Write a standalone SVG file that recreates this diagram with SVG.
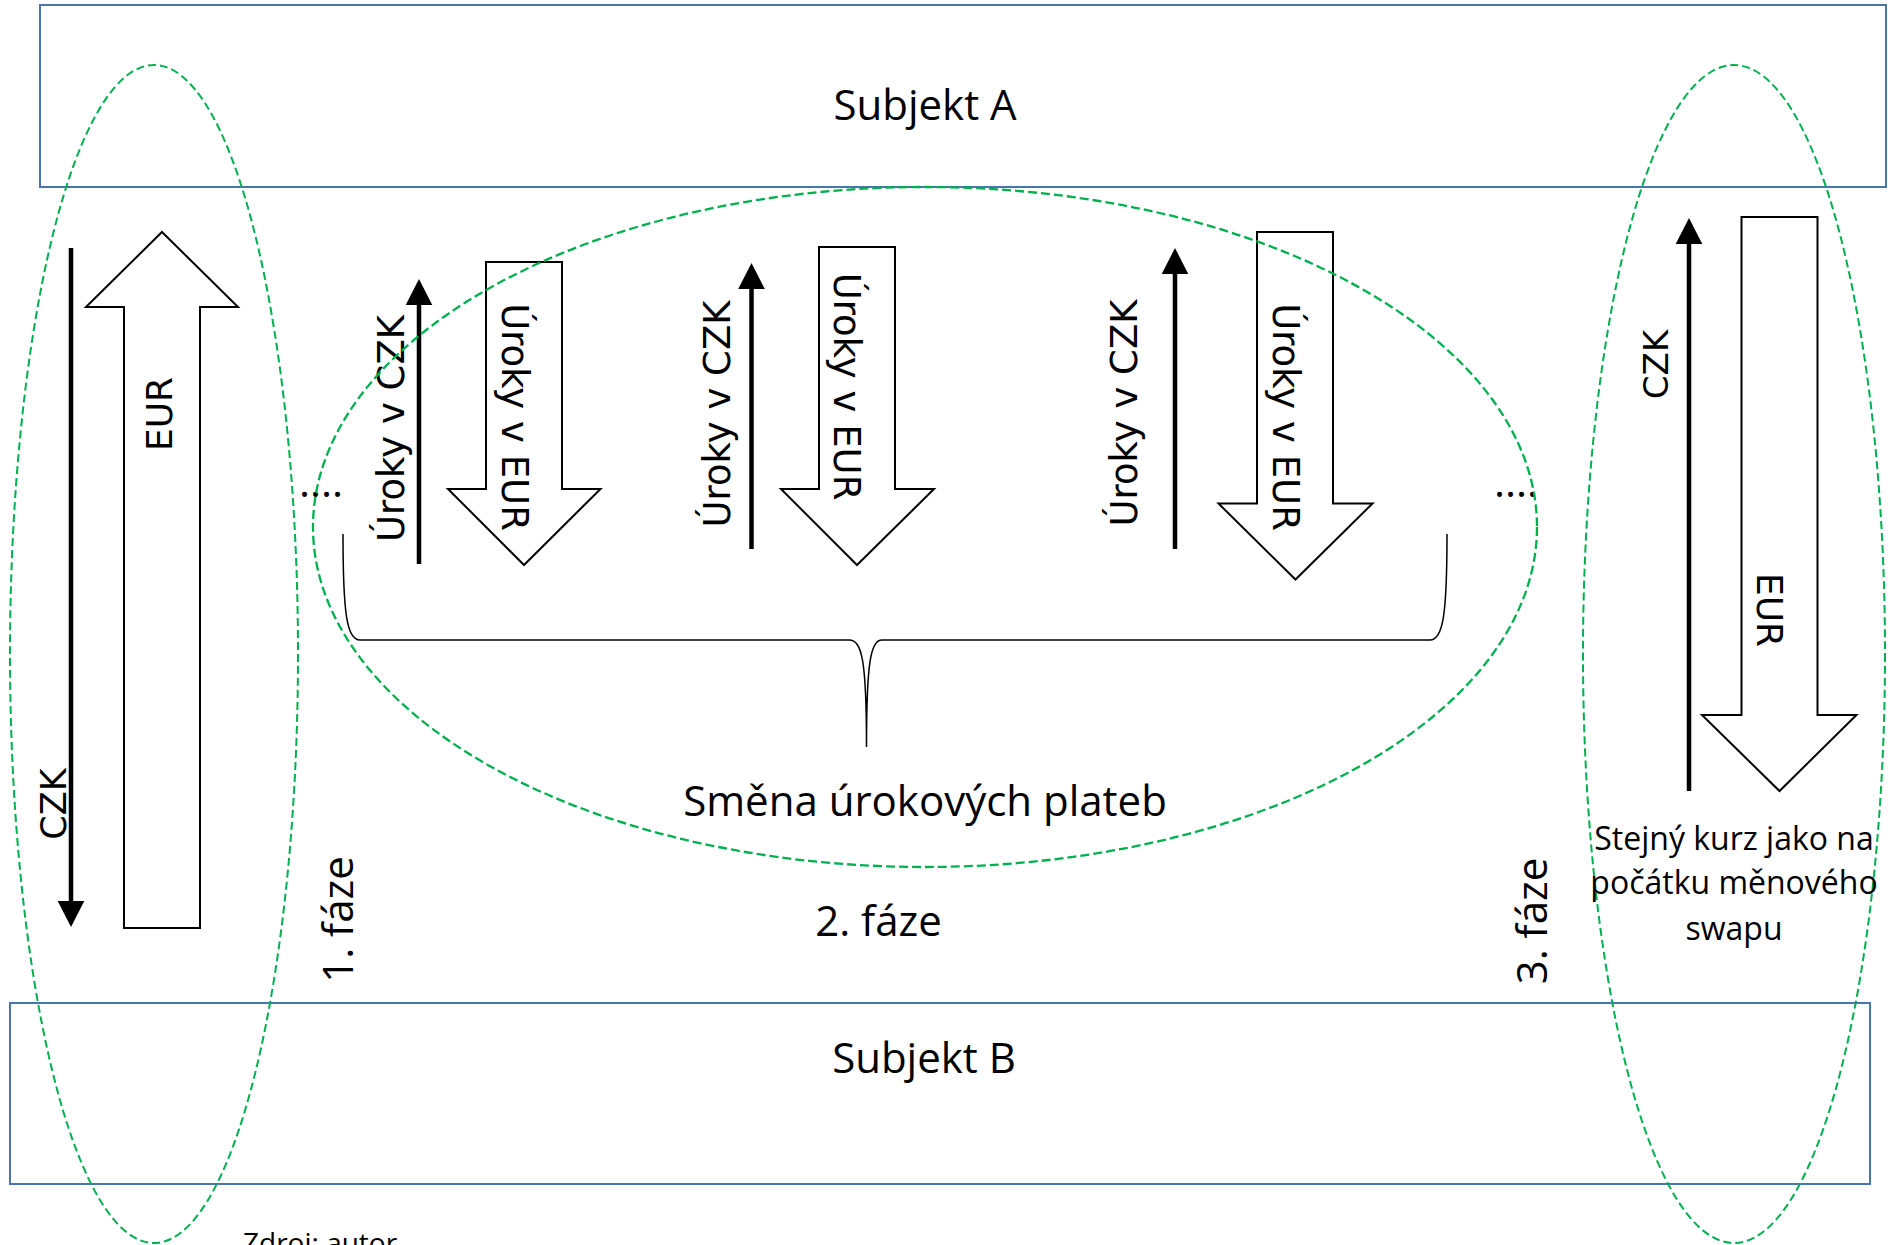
<svg xmlns="http://www.w3.org/2000/svg" width="1893" height="1245" viewBox="0 0 1893 1245">
  <style>
    .box { fill: none; stroke: #4a75a8; stroke-width: 2; }
    .title { font-family: "Open Sans", "Liberation Sans", sans-serif; font-size: 42px; fill: #000; text-anchor: middle; }
    .note { font-family: "Open Sans", "Liberation Sans", sans-serif; font-size: 32px; fill: #000; text-anchor: middle; }
    .dots { font-family: "Open Sans", "Liberation Sans", sans-serif; font-size: 42px; fill: #000; }
    .lbl { font-family: "DejaVu Sans", "Liberation Sans", sans-serif; font-size: 37px; fill: #000; text-anchor: middle; }
    .flow { stroke: #000; stroke-width: 4.5; fill: none; marker-end: url(#head); }
    .block { fill: none; stroke: #000; stroke-width: 2; stroke-linejoin: miter; }
    .zone { fill: none; stroke: #00b050; stroke-width: 2; stroke-dasharray: 8 4; }
    .zone-mid { fill: none; stroke: #00b050; stroke-width: 2.3; stroke-dasharray: 9 4; }
    .brace { fill: none; stroke: #000; stroke-width: 1.5; }
  </style>
  <defs>
    <marker id="head" markerUnits="userSpaceOnUse" markerWidth="27" markerHeight="28" viewBox="0 -14 27 28" refX="0" refY="0" orient="auto">
      <path d="M0,-13.3 L26,0 L0,13.3 z" fill="#000"/>
    </marker>
  </defs>

  <!-- parties -->
  <g id="subjekt-a">
    <rect class="box" x="40" y="5" width="1846" height="182"/>
    <text class="title" x="925" y="120">Subjekt A</text>
  </g>
  <g id="subjekt-b">
    <rect class="box" x="10" y="1003" width="1860" height="181"/>
    <text class="title" x="924" y="1073">Subjekt B</text>
  </g>

  <!-- payment flows -->
  <g id="connectors">
    <!-- phase 1: principal exchange -->
    <g id="flow-1-czk">
      <line class="flow" x1="71" y1="248" x2="71" y2="901"/>
      <text class="lbl" style="font-size:35px" transform="translate(66,804) rotate(-90)">CZK</text>
    </g>
    <g id="flow-1-eur">
      <polygon class="block" points="162,232 238,307 200,307 200,928 124,928 124,307 86,307"/>
      <text class="lbl" style="font-size:36px" transform="translate(172,414) rotate(-90)">EUR</text>
    </g>

    <!-- phase 2: interest payments -->
    <g id="flow-2a-czk">
      <line class="flow" x1="419" y1="564" x2="419" y2="305"/>
      <text class="lbl" transform="translate(404,428.5) rotate(-90)">Úroky v CZK</text>
    </g>
    <g id="flow-2a-eur">
      <polygon class="block" points="486,262 562,262 562,489 600.5,489 524,565 448,489 486,489"/>
      <text class="lbl" transform="translate(502,417) rotate(90)">Úroky v EUR</text>
    </g>
    <g id="flow-2b-czk">
      <line class="flow" x1="751.5" y1="549" x2="751.5" y2="289"/>
      <text class="lbl" transform="translate(730,414) rotate(-90)">Úroky v CZK</text>
    </g>
    <g id="flow-2b-eur">
      <polygon class="block" points="819,247 895,247 895,489 934,489 857,565 781,489 819,489"/>
      <text class="lbl" transform="translate(834,386.5) rotate(90)">Úroky v EUR</text>
    </g>
    <g id="flow-2c-czk">
      <line class="flow" x1="1175" y1="549" x2="1175" y2="274"/>
      <text class="lbl" transform="translate(1137,413) rotate(-90)">Úroky v CZK</text>
    </g>
    <g id="flow-2c-eur">
      <polygon class="block" points="1257,232 1333,232 1333,503.5 1372.5,503.5 1295.5,579.5 1218.5,503.5 1257,503.5"/>
      <text class="lbl" transform="translate(1272.5,417) rotate(90)">Úroky v EUR</text>
    </g>

    <!-- phase 3: principal re-exchange -->
    <g id="flow-3-czk">
      <line class="flow" x1="1689" y1="791" x2="1689" y2="244"/>
      <text class="lbl" style="font-size:34px" transform="translate(1668,364.5) rotate(-90)">CZK</text>
    </g>
    <g id="flow-3-eur">
      <polygon class="block" points="1741.5,217 1817.5,217 1817.5,715 1856.5,715 1779.5,791 1702,715 1741.5,715"/>
      <text class="lbl" style="font-size:36px" transform="translate(1757,610) rotate(90)">EUR</text>
    </g>
  </g>

  <!-- continuation dots -->
  <text class="dots" x="299" y="497">....</text>
  <text class="dots" x="1494" y="497">....</text>

  <!-- brace grouping the interest payments -->
  <g id="interest-brace">
    <path class="brace" d="M343,534 C343,615 347,640 360,640 L849,640 C862,640 866.5,660 866.5,747 C866.5,660 871,640 882,640 L1430,640 C1443,640 1447,615 1447,534"/>
    <text class="title" x="925" y="816">Směna úrokových plateb</text>
  </g>

  <!-- phases -->
  <g id="phase-1">
    <ellipse class="zone" cx="154" cy="654" rx="144" ry="589"/>
    <text class="title" transform="translate(353,919.5) rotate(-90)">1. fáze</text>
  </g>
  <g id="phase-2">
    <ellipse class="zone-mid" cx="925" cy="527" rx="612" ry="340"/>
    <text class="title" x="878.5" y="936">2. fáze</text>
  </g>
  <g id="phase-3">
    <ellipse class="zone" cx="1734" cy="654" rx="151" ry="589"/>
    <text class="title" transform="translate(1547,921) rotate(-90)">3. fáze</text>
    <text class="note" x="1734" y="850">Stejný kurz jako na</text>
    <text class="note" x="1734" y="894">počátku měnového</text>
    <text class="note" x="1734" y="940">swapu</text>
  </g>

  <text class="title" style="font-size:28px; text-anchor:start" x="243" y="1253">Zdroj: autor</text>
</svg>
